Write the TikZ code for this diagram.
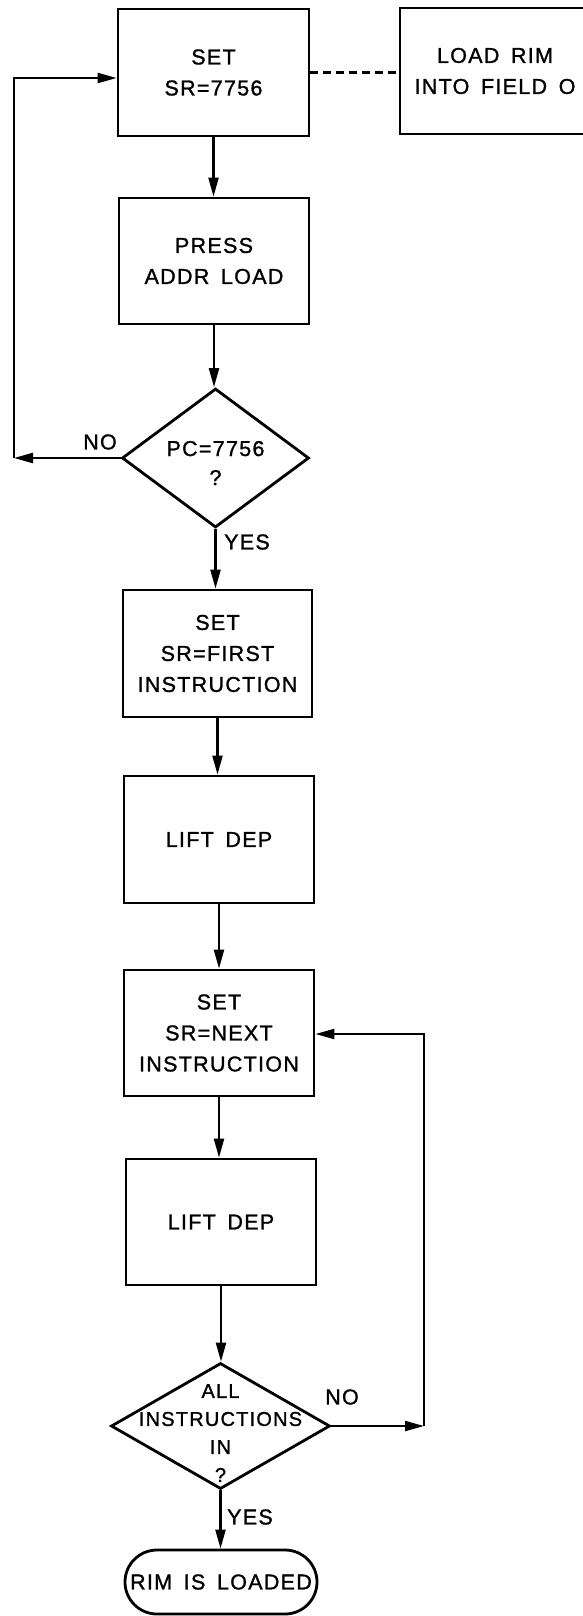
\documentclass[tikz,border=0pt]{standalone}
\usepackage{fontspec}
\setmainfont{Liberation Sans}[LetterSpace=6,FakeBold=1.2,WordSpace=1.6]
\usetikzlibrary{arrows.meta,shapes.geometric}
\begin{document}
\begin{tikzpicture}[x=1pt,y=-1pt,
  box/.style={draw,line width=2.8pt,minimum width=190pt,minimum height=126pt,inner sep=0pt,align=center,font=\fontsize{21.5}{31}\selectfont},
  dia/.style={draw,diamond,line width=2.8pt,inner sep=0pt},
  txt/.style={font=\fontsize{21.5}{29}\selectfont,align=center,inner sep=0pt},
  smalltxt/.style={font=\fontsize{20}{28}\selectfont,align=center,inner sep=0pt},
  term/.style={draw,line width=2.8pt,rounded corners=32pt,minimum width=192pt,minimum height=64pt,inner sep=0pt,font=\fontsize{21.5}{29}\selectfont},
  arr/.style={line width=2.2pt,-{Triangle[length=19pt,width=10pt]}},
  ln/.style={line width=2.2pt},
]
\useasboundingbox (0,0) rectangle (583,1616);
\fill[white] (0,0) rectangle (583,1616);

\node[box,minimum width=191pt,minimum height=127pt] (b1) at (213.5,72.5) {SET\\SR=7756};
\node[box] (lr) at (495,71) {LOAD RIM\\INTO FIELD O};
\node[box] (b2) at (214,261) {PRESS\\ADDR LOAD};
\node[dia,minimum width=187pt,minimum height=139pt] (d1) at (215.5,458) {};
\node[txt] (d1t) at (215.5,463) {PC=7756\\?};
\node[box,minimum width=189pt,minimum height=127pt] (b3) at (217.5,653.5) {SET\\SR=FIRST\\INSTRUCTION};
\node[box,minimum height=127pt] (b4) at (219,839.5) {LIFT DEP};
\node[box] (b5) at (219,1033) {SET\\SR=NEXT\\INSTRUCTION};
\node[box] (b6) at (221,1222) {LIFT DEP};
\node[dia,minimum width=219pt,minimum height=126pt] (d2) at (220.5,1426) {};
\node[smalltxt] (d2t) at (220.5,1433) {ALL\\INSTRUCTIONS\\IN\\?};
\node[term] (t) at (221,1582) {RIM IS LOADED};

\node[txt] (no1) at (100,442) {NO};
\node[txt] (yes1) at (247,542) {YES};
\node[txt] (no2) at (342,1397) {NO};
\node[txt] (yes2) at (250,1517) {YES};

\draw[ln,dash pattern=on 8pt off 5pt] (b1.east) -- (b1.east -| lr.west);

\draw[arr] (b1.south) -- (b1.south |- b2.north);
\draw[arr] (b2.south) -- (b2.south |- d1.north);
\draw[arr] (d1.south) -- (d1.south |- b3.north);
\draw[arr] (b3.south) -- (b3.south |- b4.north);
\draw[arr] (b4.south) -- (b4.south |- b5.north);
\draw[arr] (b5.south) -- (b5.south |- b6.north);
\draw[arr] (b6.south) -- (b6.south |- d2.north);
\draw[arr] (d2.south) -- (d2.south |- t.north);

\coordinate (cl1) at (14,458);
\coordinate (cl2) at (14,78);
\draw[arr] (d1.west) -- (cl1);
\draw[arr] (cl1) -- (cl2) -- (b1.west |- cl2);

\coordinate (cr1) at (424,1426);
\coordinate (cr2) at (424,1034);
\draw[arr] (d2.east) -- (cr1);
\draw[arr] (cr1) -- (cr2) -- (b5.east |- cr2);
\end{tikzpicture}
\end{document}
